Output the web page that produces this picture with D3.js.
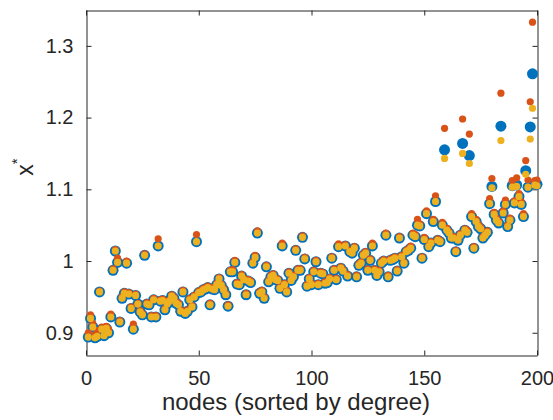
<!DOCTYPE html>
<html>
<head>
<meta charset="utf-8">
<script src="https://cdn.jsdelivr.net/npm/d3@7"></script>
<style>
body { margin: 0; background: #fff; }
svg text { font-family: "Liberation Sans", Arial, Helvetica, sans-serif; fill: #262626; }
</style>
</head>
<body>
<svg id="chart" width="553" height="420"></svg>
<script>
// nodes 1..200, sorted by degree
var nodes = d3.range(1, 201);

// x* (blue, big markers)
var xStar = [
  0.894,0.920,0.908,0.893,0.895,0.957,0.905,0.896,0.906,0.900,
  0.922,0.987,1.014,0.998,0.915,0.948,0.955,0.997,0.954,0.934,
  0.905,0.952,0.940,0.929,0.925,1.008,0.940,0.939,0.922,0.946,
  0.922,1.021,0.944,0.945,0.932,0.940,0.944,0.951,0.948,0.941,
  0.939,0.930,0.957,0.927,0.930,0.946,0.936,0.950,1.027,0.956,
  0.957,0.960,0.961,0.963,0.939,0.961,0.960,0.967,0.975,0.966,
  0.960,0.953,0.937,0.985,0.985,0.998,0.968,0.967,0.979,0.974,
  0.953,0.972,0.970,0.997,1.005,1.039,0.955,0.957,0.948,0.992,
  0.971,0.978,0.980,0.974,0.973,0.962,1.021,0.967,0.957,0.983,
  0.973,0.978,1.015,0.987,0.987,1.033,1.003,0.965,0.975,0.967,
  0.985,0.999,0.967,0.983,0.982,0.969,0.970,0.975,1.004,0.987,
  0.974,1.020,0.990,0.986,1.021,0.979,1.013,1.011,1.018,0.978,
  0.994,0.997,1.008,1.011,0.987,1.001,1.021,0.987,0.980,0.985,
  0.997,1.000,1.036,0.978,1.001,1.002,1.004,0.986,1.032,1.006,
  0.997,1.013,1.015,1.018,1.036,1.034,1.050,1.049,1.004,1.030,
  1.066,1.020,1.025,1.055,1.083,1.029,1.027,1.050,1.155,1.043,
  1.039,1.032,1.032,1.013,1.029,1.036,1.164,1.043,1.040,1.147,
  1.062,1.018,1.055,1.048,1.045,1.032,1.036,1.040,1.080,1.104,
  1.065,1.057,1.053,1.188,1.067,1.079,1.048,1.057,1.105,1.081,
  1.106,1.090,1.079,1.062,1.126,1.103,1.187,1.261,1.108,1.107
];

// first approximation (orange, small markers)
var approxA = [
  0.900,0.925,0.913,0.897,0.903,0.958,0.908,0.903,0.909,0.905,
  0.926,0.989,1.016,1.004,0.917,0.950,0.957,1.000,0.956,0.936,
  0.912,0.954,0.941,0.931,0.927,1.010,0.942,0.941,0.924,0.948,
  0.924,1.031,0.946,0.947,0.934,0.942,0.946,0.953,0.950,0.943,
  0.941,0.932,0.959,0.929,0.932,0.948,0.938,0.952,1.037,0.958,
  0.959,0.962,0.963,0.965,0.941,0.963,0.962,0.969,0.977,0.968,
  0.962,0.955,0.939,0.987,0.988,1.001,0.970,0.969,0.981,0.976,
  0.955,0.974,0.972,0.999,1.008,1.042,0.957,0.959,0.950,0.994,
  0.973,0.980,0.982,0.976,0.975,0.964,1.025,0.969,0.959,0.985,
  0.975,0.980,1.017,0.989,0.989,1.035,1.005,0.967,0.977,0.969,
  0.987,1.001,0.969,0.985,0.984,0.971,0.972,0.977,1.006,0.989,
  0.976,1.024,0.992,0.988,1.023,0.981,1.015,1.013,1.020,0.980,
  0.996,0.999,1.010,1.013,0.989,1.003,1.025,0.989,0.982,0.987,
  0.999,1.002,1.039,0.980,1.003,1.004,1.006,0.988,1.034,1.008,
  0.999,1.015,1.017,1.021,1.039,1.037,1.058,1.052,1.006,1.033,
  1.070,1.022,1.027,1.058,1.091,1.031,1.029,1.054,1.185,1.046,
  1.041,1.034,1.034,1.015,1.031,1.038,1.198,1.045,1.043,1.177,
  1.066,1.020,1.058,1.051,1.047,1.034,1.038,1.042,1.087,1.115,
  1.068,1.060,1.055,1.234,1.070,1.085,1.050,1.060,1.112,1.084,
  1.116,1.094,1.083,1.066,1.140,1.113,1.222,1.333,1.112,1.113
];

// second approximation (yellow, small markers)
var approxB = [
  0.894,0.920,0.908,0.893,0.895,0.957,0.905,0.896,0.906,0.900,
  0.922,0.987,1.014,0.998,0.915,0.948,0.955,0.997,0.954,0.934,
  0.905,0.952,0.940,0.929,0.925,1.008,0.940,0.939,0.922,0.946,
  0.922,1.021,0.944,0.945,0.932,0.940,0.944,0.951,0.948,0.941,
  0.939,0.930,0.957,0.927,0.930,0.946,0.936,0.950,1.027,0.956,
  0.957,0.960,0.961,0.963,0.939,0.961,0.960,0.967,0.975,0.966,
  0.960,0.953,0.937,0.985,0.985,0.998,0.968,0.967,0.979,0.974,
  0.953,0.972,0.970,0.997,1.005,1.039,0.955,0.957,0.948,0.992,
  0.971,0.978,0.980,0.974,0.973,0.962,1.021,0.967,0.957,0.983,
  0.973,0.978,1.015,0.987,0.987,1.033,1.003,0.965,0.975,0.967,
  0.985,0.999,0.967,0.983,0.982,0.969,0.970,0.975,1.004,0.987,
  0.974,1.020,0.990,0.986,1.021,0.979,1.013,1.011,1.018,0.978,
  0.994,0.997,1.008,1.011,0.987,1.001,1.021,0.987,0.980,0.985,
  0.997,1.000,1.036,0.978,1.001,1.002,1.004,0.986,1.032,1.006,
  0.997,1.013,1.015,1.018,1.036,1.034,1.050,1.049,1.004,1.030,
  1.066,1.020,1.025,1.055,1.083,1.029,1.027,1.050,1.143,1.043,
  1.039,1.032,1.032,1.013,1.029,1.036,1.150,1.043,1.040,1.136,
  1.062,1.018,1.055,1.048,1.045,1.032,1.036,1.040,1.080,1.102,
  1.065,1.057,1.053,1.168,1.067,1.079,1.048,1.057,1.103,1.081,
  1.104,1.090,1.079,1.062,1.121,1.103,1.170,1.213,1.106,1.105
];

var xTicks = [0, 50, 100, 150, 200];
var yTicks = [0.9, 1, 1.1, 1.2, 1.3];
var yTickLabels = ['0.9', '1', '1.1', '1.2', '1.3'];

// svg rendering
var svg = d3.select('#chart');
var width = 553;
var height = 420;
var margin_left = 86;
var margin_right = 16;
var margin_top = 10;
var margin_bottom = 65;
var axis_color = '#262626';

var x = d3.scaleLinear().domain([0, 200]).range([margin_left, width - margin_right]);
var y = d3.scaleLinear().domain([0.869, 1.35]).range([height - margin_bottom, margin_top]);

svg.append('rect').attr('width', width).attr('height', height).attr('fill', '#fff');

// axes (mirrored ticks on top and right, inward)
var style_axis = function(g) {
    g.selectAll('path.domain').attr('stroke', axis_color).attr('stroke-width', 1);
    g.selectAll('.tick line').attr('stroke', axis_color).attr('stroke-width', 1);
    g.selectAll('.tick text').attr('font-size', 20).attr('fill', axis_color)
        .style('font-family', '"Liberation Sans", Arial, Helvetica, sans-serif');
};

var xAxis = d3.axisBottom(x).tickValues(xTicks).tickSize(-5).tickSizeOuter(0).tickPadding(15);
var yAxis = d3.axisLeft(y).tickValues(yTicks).tickSize(-5).tickSizeOuter(0).tickPadding(13)
    .tickFormat(function(d, i) { return yTickLabels[i]; });
var xAxisTop = d3.axisTop(x).tickValues(xTicks).tickSize(-5).tickSizeOuter(0).tickFormat('');
var yAxisRight = d3.axisRight(y).tickValues(yTicks).tickSize(-5).tickSizeOuter(0).tickFormat('');

svg.append('g').attr('transform', 'translate(0,' + (height - margin_bottom + 0.5) + ')').call(xAxis).call(style_axis);
svg.append('g').attr('transform', 'translate(' + (margin_left + 0.5) + ',0)').call(yAxis).call(style_axis);
svg.append('g').attr('transform', 'translate(0,' + (margin_top + 0.5) + ')').call(xAxisTop).call(style_axis);
svg.append('g').attr('transform', 'translate(' + (width - margin_right + 0.5) + ',0)').call(yAxisRight).call(style_axis);

// markers: blue x*, then orange and yellow on top
var draw_dots = function(values, r, color) {
    svg.append('g').selectAll('circle')
        .data(values)
        .enter().append('circle')
        .attr('cx', function(d, i) { return x(nodes[i]); })
        .attr('cy', function(d) { return y(d); })
        .attr('r', r)
        .attr('fill', color);
};
draw_dots(xStar, 5.5, '#0072BD');
draw_dots(approxA, 3.6, '#D95319');
draw_dots(approxB, 3.6, '#EDB120');

// labels
svg.append('text')
    .attr('x', 296)
    .attr('y', 410)
    .attr('text-anchor', 'middle')
    .attr('font-size', 24)
    .text('nodes (sorted by degree)');

var ylab = svg.append('text')
    .attr('transform', 'translate(33,167) rotate(-90)')
    .attr('text-anchor', 'middle')
    .attr('font-size', 23);
ylab.append('tspan').text('x');
ylab.append('tspan').attr('dy', -11).attr('font-size', 15).text('*');
</script>
</body>
</html>
